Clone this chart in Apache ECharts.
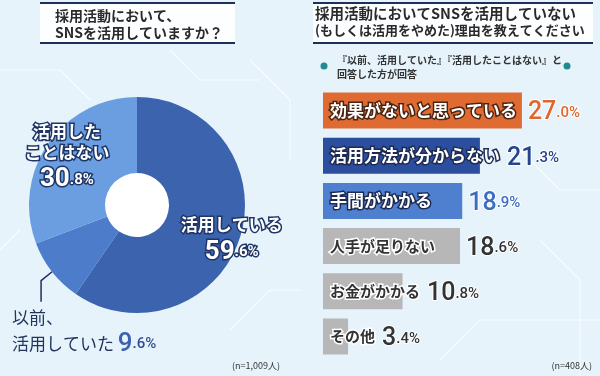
<!DOCTYPE html>
<html>
<head>
<meta charset="utf-8">
<script src="https://cdn.jsdelivr.net/npm/echarts@6/dist/echarts.min.js"></script>
<style>
  html, body { margin: 0; padding: 0; background: #e6f3fb; }
  #chart { width: 600px; height: 376px; }
</style>
</head>
<body>
<div id="chart"></div>
<script>
// left: pie
const pieTitle = ['採用活動において、', 'SNSを活用していますか？'];
const pieNames = ['活用している', '以前、\n活用していた', '活用した\nことはない'];
const pieValues = [59.6, 9.6, 30.8];
const pieColors = ['#3b63ae', '#4d7ccb', '#6a9ee0'];
const pieNote = '(n=1,009人)';

// right: bars
const barTitle = ['採用活動においてSNSを活用していない', '(もしくは活用をやめた)理由を教えてください'];
const barSub = '『以前、活用していた』『活用したことはない』と\n回答した方が回答';
const barNames = ['効果がないと思っている', '活用方法が分からない', '手間がかかる', '人手が足りない', 'お金がかかる', 'その他'];
const barValues = [27.0, 21.3, 18.9, 18.6, 10.8, 3.4];
const barColors = ['#e06b32', '#2b4e9e', '#4f80d0', '#b7b7b7', '#b7b7b7', '#b7b7b7'];
const valueColors = ['#e0662c', '#24448f', '#3d6cc0', '#333333', '#333333', '#333333'];
const barNote = '(n=408人)';

const JP = '"Noto Sans CJK JP", sans-serif';
const NUM = 'Roboto, sans-serif';

const chart = echarts.init(document.getElementById('chart'), null, { renderer: 'canvas' });

const splitNum = (v) => {
  const s = v.toFixed(1).split('.');
  return { a: s[0], b: '.' + s[1] + '%' };
};

const pieLabel = (p) => {
  const n = splitNum(p.value);
  const lines = p.name.split('\n');
  if (p.dataIndex === 1) {
    return '{o|' + lines[0] + '}\n{o|' + lines[1] + ' }{bn|' + n.a + '}{bd|' + n.b + '}';
  }
  return lines.map((l) => '{t|' + l + '}').join('\n') + '\n{n|' + n.a + '}{d|' + n.b + '}';
};

const isGray = (i) => i >= 3;
const gridLeft = 323;
const outline = { textBorderColor: '#1f3566', textBorderWidth: 3, color: '#fff' };

// faint circuit-like decoration in the background
const deco = [
  [[0, 70], [60, 70], [90, 100]], [[250, 60], [290, 100], [290, 160]], [[230, 330], [270, 290], [300, 290]],
  [[440, 360], [480, 320], [600, 320]], [[520, 150], [560, 190], [600, 190]], [[0, 250], [20, 230]],
  [[540, 240], [580, 280], [580, 376]], [[170, 50], [200, 80], [260, 80]]
].map((pts) => ({ type: 'polyline', z: -1, shape: { points: pts }, style: { stroke: 'rgba(255,255,255,0.7)', lineWidth: 1.2, fill: null } }));

// pie label nudges (applied once per setOption call below, so halved)
const nudge = { 0: { dx: 12.5, dy: 6.5 }, 2: { dx: -5, dy: -3.5 } };

function buildOption(offsets) {
  return {
    backgroundColor: '#e6f3fb',
    animation: false,
    graphic: deco.concat([
      // title boxes
      { type: 'rect', shape: { x: 40, y: 3, width: 195, height: 40 }, style: { fill: 'rgba(255,255,255,0.9)' } },
      { type: 'line', shape: { x1: 40, y1: 3, x2: 235, y2: 3 }, style: { stroke: '#1f2f5c', lineWidth: 2 } },
      { type: 'line', shape: { x1: 40, y1: 43, x2: 235, y2: 43 }, style: { stroke: '#1f2f5c', lineWidth: 2 } },
      { type: 'text', left: 55, top: 7, style: { text: pieTitle.join('\n'), font: 'bold 14px ' + JP, fill: '#2a2a2a', lineHeight: 17 } },
      { type: 'rect', shape: { x: 313, y: 3, width: 280, height: 40 }, style: { fill: 'rgba(255,255,255,0.9)' } },
      { type: 'line', shape: { x1: 313, y1: 3, x2: 593, y2: 3 }, style: { stroke: '#1f2f5c', lineWidth: 2 } },
      { type: 'line', shape: { x1: 313, y1: 43, x2: 593, y2: 43 }, style: { stroke: '#1f2f5c', lineWidth: 2 } },
      { type: 'text', left: 315, top: 6, style: { text: barTitle[0], font: 'bold 14.5px ' + JP, fill: '#2a2a2a' } },
      { type: 'text', left: 315, top: 24, style: { text: barTitle[1], font: 'bold 13px ' + JP, fill: '#2a2a2a' } },
      // subtitle
      { type: 'circle', shape: { cx: 324, cy: 66, r: 3.5 }, style: { fill: '#1f8a8f' } },
      { type: 'circle', shape: { cx: 567, cy: 66, r: 3.5 }, style: { fill: '#1f8a8f' } },
      { type: 'text', left: 337, top: 53, style: { text: barSub, font: 'bold 10px ' + JP, fill: '#333', lineHeight: 14 } },
      // donut hole
      { type: 'circle', shape: { cx: 137, cy: 205, r: 32 }, style: { fill: '#fff' } },
      // notes
      { type: 'text', right: 320, top: 361, style: { text: pieNote, font: '9px ' + JP, fill: '#333' } },
      { type: 'text', right: 8, top: 361, style: { text: barNote, font: '9px ' + JP, fill: '#333' } }
    ]),
    grid: { left: gridLeft, top: 88, width: 221, height: 271 },
    xAxis: { type: 'value', min: 0, max: 30, show: false },
    yAxis: { type: 'category', data: barNames, inverse: true, show: false },
    series: [
      {
        type: 'pie',
        center: [137, 205],
        radius: [32, 108],
        startAngle: 90,
        clockwise: true,
        silent: true,
        data: pieNames.map((n, i) => ({
          name: n,
          value: pieValues[i],
          itemStyle: { color: pieColors[i] },
          label: i === 1
            ? { position: 'outside', width: 220, overflow: 'none', align: 'left' }
            : { position: 'inside' },
          labelLine: { show: i === 1 }
        })),
        label: {
          formatter: pieLabel,
          align: 'center',
          rich: {
            t: Object.assign({ fontFamily: JP, fontSize: 17, fontWeight: 'bold', lineHeight: 21, align: 'center' }, outline),
            n: Object.assign({ fontFamily: NUM, fontSize: 26, fontWeight: 'bold', lineHeight: 30, verticalAlign: 'bottom' }, outline),
            d: Object.assign({ fontFamily: NUM, fontSize: 15, fontWeight: 'bold', lineHeight: 15, padding: [0, 0, 5, 0], verticalAlign: 'bottom' }, outline),
            o: { fontFamily: JP, fontSize: 17, color: '#22345f', lineHeight: 25 },
            bn: { fontFamily: NUM, fontSize: 26, fontWeight: 500, color: '#3a62b0', lineHeight: 27, verticalAlign: 'bottom' },
            bd: { fontFamily: NUM, fontSize: 15, fontWeight: 500, color: '#2e4f95', lineHeight: 15, padding: [0, 0, 5, 0], verticalAlign: 'bottom' }
          }
        },
        labelLine: { lineStyle: { color: '#1f2f5c', width: 1.5 } },
        labelLayout: (p) => {
          if (nudge[p.dataIndex]) return nudge[p.dataIndex];
          const a = (90 - 3.6 * (pieValues[0] + pieValues[1] / 2)) * Math.PI / 180;
          const p0 = [137 + 108 * Math.cos(a), 205 - 108 * Math.sin(a)];
          const p1 = [p0[0] - 11, p0[1] + 9];
          const p2 = [p1[0], p1[1] + 21];
          return { x: 12, y: 305, align: 'left', verticalAlign: 'top', labelLinePoints: [p0, p1, p2] };
        }
      },
      {
        type: 'bar',
        barWidth: 36,
        silent: true,
        data: barValues.map((v, i) => ({
          value: v,
          itemStyle: { color: barColors[i] },
          label: isGray(i)
            ? { color: '#333', textBorderColor: '#fff', fontSize: 15 }
            : (i === 0 ? { textBorderColor: '#4a2410' } : {})
        })),
        label: {
          show: true,
          position: 'insideLeft',
          distance: 7,
          formatter: (p) => p.name,
          fontFamily: JP,
          fontWeight: 'bold',
          fontSize: 17,
          color: '#fff',
          textBorderColor: '#1d2b52',
          textBorderWidth: 3
        },
        z: 2
      },
      {
        type: 'bar',
        barWidth: 36,
        barGap: '-100%',
        silent: true,
        itemStyle: { color: 'transparent' },
        data: barValues.map((v, i) => ({
          value: v,
          label: { offset: [offsets[i], 1] }
        })),
        label: {
          show: true,
          position: 'right',
          distance: 6,
          formatter: (p) => {
            const n = splitNum(p.value);
            return '{a' + p.dataIndex + '|' + n.a + '}{b' + p.dataIndex + '|' + n.b + '}';
          },
          rich: Object.fromEntries(valueColors.flatMap((c, i) => [
            ['a' + i, { fontFamily: NUM, fontSize: 25, fontWeight: 500, color: c, textBorderColor: '#fff', textBorderWidth: 2, verticalAlign: 'bottom', lineHeight: 28 }],
            ['b' + i, { fontFamily: NUM, fontSize: 15, fontWeight: 500, color: c, textBorderColor: '#fff', textBorderWidth: 2, verticalAlign: 'bottom', lineHeight: 15, padding: [0, 0, 5, 0] }]
          ]))
        },
        z: 3
      }
    ]
  };
}

chart.setOption(buildOption(barValues.map(() => 0)));

// push value labels past the name text where the name overflows the bar
const ctx = document.createElement('canvas').getContext('2d');
const offsets = barValues.map((v, i) => {
  const size = isGray(i) ? 15 : 17;
  ctx.font = 'bold ' + size + 'px ' + JP;
  const textEnd = gridLeft + 7 + ctx.measureText(barNames[i]).width + 1;
  const barEnd = chart.convertToPixel({ xAxisIndex: 0 }, v);
  return Math.max(0, textEnd - barEnd);
});
chart.setOption(buildOption(offsets));
</script>
</body>
</html>
